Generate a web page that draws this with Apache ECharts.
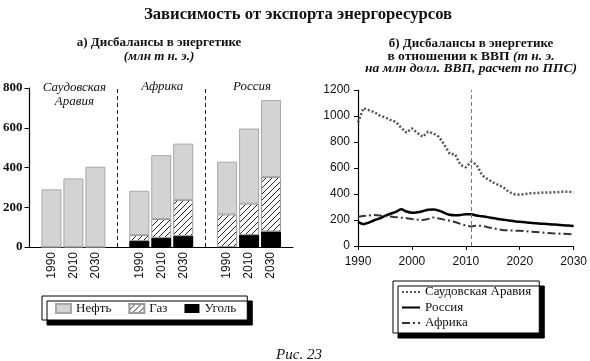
<!DOCTYPE html>
<html><head><meta charset="utf-8">
<script src="https://cdn.jsdelivr.net/npm/echarts@6/dist/echarts.min.js"></script>
<style>html,body{margin:0;padding:0;background:#fff}#c{width:590px;height:361px}</style>
</head><body><div id="c"></div>
<script>
// ---- Data: panel a) ----
// slot keys along the category axis (blank slots separate the groups)
const barSlots = ['pad0', 'SA1990', 'SA2010', 'SA2030', 'gap1', 'AF1990', 'AF2010', 'AF2030', 'gap2', 'RU1990', 'RU2010', 'RU2030', 'pad1'];
const barYears = ['', '1990', '2010', '2030', '', '1990', '2010', '2030', '', '1990', '2010', '2030', ''];
const coal = ['-', 0, 0, 0, '-', 30, 45, 55, '-', 0, 60, 78, '-'];
const gas = ['-', 0, 0, 0, '-', 30, 96, 182, '-', 164, 158, 274, '-'];
const oil = ['-', 290, 345, 404, '-', 223, 321, 283, '-', 265, 378, 387, '-'];
const groupNames = ['Саудовская\nАравия', 'Африка', 'Россия'];
const groupCenters = ['SA2010', 'AF2010', 'RU2010'];
const separators = ['gap1', 'gap2'];
const leftTicks = [0, 200, 400, 600, 800];

// ---- Data: panel b) ----
const years = [];
for (let y = 1990; y <= 2030; y++) years.push(y);
const saudiRatio = [950,1060,1045,1030,1005,990,970,955,910,872,905,870,840,880,865,840,780,710,705,625,605,650,625,545,515,490,470,450,415,398,395,400,405,408,410,412,412,415,418,418,412];
const russiaRatio = [185,168,180,198,212,232,248,262,282,265,256,260,268,278,280,272,255,240,236,238,245,245,234,228,222,215,208,202,196,190,186,182,178,175,172,169,166,163,160,157,154];
const africaRatio = [225,230,235,238,235,230,226,222,218,214,208,203,200,208,220,212,203,195,185,170,157,149,158,155,145,138,128,122,120,118,117,114,111,108,105,101,98,96,94,92,90];
const rightTicks = [0, 200, 400, 600, 800, 1000, 1200];
const xTicks = [1990, 2000, 2010, 2020, 2030];
const markYear = 2011;

// hatch pattern
const pc = document.createElement('canvas');
pc.width = 6; pc.height = 6;
const g = pc.getContext('2d');
g.fillStyle = '#fff'; g.fillRect(0, 0, 6, 6);
g.strokeStyle = '#222'; g.lineWidth = 1;
g.beginPath();
g.moveTo(0, 6); g.lineTo(6, 0);
g.moveTo(-3, 3); g.lineTo(3, -3);
g.moveTo(3, 9); g.lineTo(9, 3);
g.stroke();
const hatch = { image: pc, repeat: 'repeat' };

const serif = 'Liberation Serif';
const sans = 'Liberation Sans';

const chart = echarts.init(document.getElementById('c'), null, { renderer: 'canvas' });

const option = {
  animation: false,
  backgroundColor: '#fff',
  title: [
    { text: 'Зависимость от экспорта энергоресурсов', left: 293, top: 1, textAlign: 'center',
      textStyle: { fontFamily: serif, fontWeight: 'bold', fontSize: 16.7, color: '#111' } },
    { text: 'а) Дисбалансы в энергетике', left: 154, top: 31, textAlign: 'center',
      textStyle: { fontFamily: serif, fontWeight: 'bold', fontSize: 13, color: '#111' } },
    { text: '(млн т н. э.)', left: 154, top: 45, textAlign: 'center',
      textStyle: { fontFamily: serif, fontStyle: 'italic', fontSize: 13, color: '#111' } },
    { text: 'б) Дисбалансы в энергетике', left: 466, top: 32, textAlign: 'center',
      textStyle: { fontFamily: serif, fontWeight: 'bold', fontSize: 13, color: '#111' } },
    { text: '{b|в отношении к ВВП }{i|(т н. э.}', left: 466, top: 45, textAlign: 'center',
      textStyle: { rich: {
        b: { fontFamily: serif, fontWeight: 'bold', fontSize: 13.5, color: '#111' },
        i: { fontFamily: serif, fontStyle: 'italic', fontSize: 13.5, color: '#111' } } } },
    { text: 'на млн долл. ВВП, расчет по ППС)', left: 466, top: 57, textAlign: 'center',
      textStyle: { fontFamily: serif, fontStyle: 'italic', fontSize: 13.5, color: '#111' } },
    { text: 'Рис. 23', left: 294, top: 343, textAlign: 'center',
      textStyle: { fontFamily: serif, fontStyle: 'italic', fontWeight: 'normal', fontSize: 15, color: '#111' } }
  ],
  grid: [
    { left: 28, right: 297, top: 88, bottom: 114 },
    { left: 358, right: 15, top: 90, bottom: 115 }
  ],
  xAxis: [
    { gridIndex: 0, type: 'category', data: barSlots, boundaryGap: false,
      axisLine: { show: true, onZero: false, lineStyle: { color: '#000', width: 1.2 } },
      axisTick: { show: false },
      axisLabel: { interval: 0, rotate: 90, margin: 5, fontFamily: sans, fontSize: 12, color: '#111',
        showMinLabel: true, showMaxLabel: true,
        formatter: (v, i) => barYears[barSlots.indexOf(v)] } },
    { gridIndex: 1, type: 'value', min: 1990, max: 2030, interval: 10,
      splitLine: { show: false },
      axisLine: { show: true, onZero: false, lineStyle: { color: '#000', width: 1.2 } },
      axisTick: { show: true, length: 4, lineStyle: { color: '#000' } },
      axisLabel: { margin: 10, fontFamily: sans, fontSize: 12, color: '#111',
        formatter: v => xTicks.indexOf(v) >= 0 ? String(v) : '' } }
  ],
  yAxis: [
    { gridIndex: 0, type: 'value', min: 0, max: 800, interval: 200,
      splitLine: { show: false },
      axisLine: { show: true, onZero: false, lineStyle: { color: '#000', width: 1.2 } },
      axisTick: { show: true, length: 5, lineStyle: { color: '#000' } },
      axisLabel: { margin: 7, fontFamily: serif, fontWeight: 'bold', fontSize: 13, color: '#111',
        formatter: v => leftTicks.indexOf(v) >= 0 ? String(v) : '' } },
    { gridIndex: 1, type: 'value', min: 0, max: 1200, interval: 200,
      splitLine: { show: false },
      axisLine: { show: true, onZero: false, lineStyle: { color: '#000', width: 1.2 } },
      axisTick: { show: true, length: 4, lineStyle: { color: '#000' } },
      axisLabel: { margin: 8, fontFamily: sans, fontSize: 12, color: '#111',
        formatter: v => rightTicks.indexOf(v) >= 0 ? String(v) : '' } }
  ],
  legend: [
    { data: ['Нефть', 'Газ', 'Уголь'], icon: 'rect', left: 42, top: 296, orient: 'horizontal',
      padding: [6, 11, 5, 13], itemGap: 17, itemWidth: 15, itemHeight: 9,
      backgroundColor: '#fff', borderColor: '#000', borderWidth: 1,
      shadowColor: '#000', shadowBlur: 0, shadowOffsetX: 5, shadowOffsetY: 5,
      textStyle: { fontFamily: serif, fontSize: 13, color: '#111' } },
    { data: ['Саудовская Аравия', 'Россия', 'Африка'], left: 393, top: 281, orient: 'vertical',
      padding: [4, 8, 3, 8], itemGap: 1.5, itemWidth: 18, itemHeight: 10,
      itemStyle: { opacity: 0 },
      backgroundColor: '#fff', borderColor: '#000', borderWidth: 1,
      shadowColor: '#000', shadowBlur: 0, shadowOffsetX: 5, shadowOffsetY: 5,
      textStyle: { fontFamily: serif, fontSize: 13, color: '#111', lineHeight: 14 } }
  ],
  series: [
    { name: 'Уголь', type: 'bar', xAxisIndex: 0, yAxisIndex: 0, stack: 'a', barWidth: 20,
      itemStyle: { color: '#000', borderColor: '#000', borderWidth: 0 },
      data: coal },
    { name: 'Газ', type: 'bar', xAxisIndex: 0, yAxisIndex: 0, stack: 'a', barWidth: 20,
      itemStyle: { color: hatch, borderColor: '#999', borderWidth: 1 },
      data: gas },
    { name: 'Нефть', type: 'bar', xAxisIndex: 0, yAxisIndex: 0, stack: 'a', barWidth: 20,
      itemStyle: { color: '#d3d3d3', borderColor: '#a8a8a8', borderWidth: 1 },
      data: oil,
      markLine: { silent: true, symbol: 'none', label: { show: false },
        lineStyle: { color: '#222', type: [4, 3], width: 1 },
        data: separators.map(s => ({ xAxis: s })) } },
    { name: 'Саудовская Аравия', type: 'line', xAxisIndex: 1, yAxisIndex: 1, symbol: 'none',
      lineStyle: { color: '#555', width: 2.5, type: [2, 2] }, itemStyle: { color: '#555' },
      data: years.map((y, i) => [y, saudiRatio[i]]),
      markLine: { silent: true, symbol: 'none', label: { show: false },
        lineStyle: { color: '#777', type: [4, 3], width: 1 },
        data: [{ xAxis: markYear }] } },
    { name: 'Россия', type: 'line', xAxisIndex: 1, yAxisIndex: 1, symbol: 'none', smooth: 0.3,
      lineStyle: { color: '#000', width: 2.5, type: 'solid' }, itemStyle: { color: '#000' },
      data: years.map((y, i) => [y, russiaRatio[i]]) },
    { name: 'Африка', type: 'line', xAxisIndex: 1, yAxisIndex: 1, symbol: 'none',
      lineStyle: { color: '#333', width: 2, type: [8, 3, 2, 3] }, itemStyle: { color: '#333' },
      data: years.map((y, i) => [y, africaRatio[i]]) }
  ]
};
chart.setOption(option);
// group labels placed above the middle bar of each group
const labels = groupNames.map((t, k) => {
  const p = chart.convertToPixel({ gridIndex: 0 }, [groupCenters[k], 800]);
  return { type: 'text', x: p[0] + (k === 2 ? 3 : 1), y: p[1] + (k === 0 ? 7 : -1),
    style: { text: t, fontFamily: serif, fontStyle: 'italic', fontSize: 13, fill: '#111',
      align: 'center', verticalAlign: 'middle', lineHeight: 14 } };
});
chart.setOption({ graphic: labels });
</script></body></html>
